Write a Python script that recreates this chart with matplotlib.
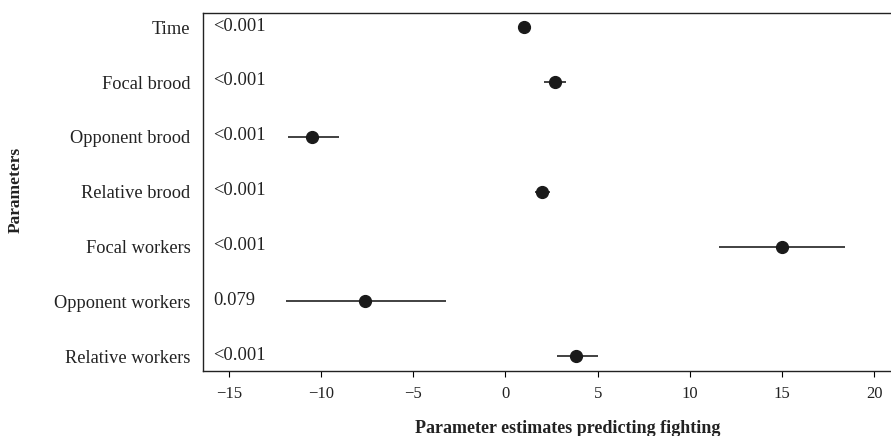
import numpy as np
import matplotlib.pyplot as plt

# parameter estimates with confidence intervals
params = ["Time", "Focal brood", "Opponent brood", "Relative brood",
          "Focal workers", "Opponent workers", "Relative workers"]
estimate = [1.0, 2.7, -10.5, 2.0, 15.0, -7.6, 3.8]
ci_low = [1.0, 2.1, -11.8, 1.6, 11.6, -11.9, 2.8]
ci_high = [1.0, 3.3, -9.0, 2.4, 18.4, -3.2, 5.0]
pvals = ["<0.001", "<0.001", "<0.001", "<0.001", "<0.001", "0.079", "<0.001"]
xticks = [-15, -10, -5, 0, 5, 10, 15, 20]

plt.rcParams['font.family'] = ['Liberation Serif', 'DejaVu Serif']

fig = plt.figure(figsize=(8.91, 4.36), dpi=100)
ax = fig.add_axes([203 / 891, 65 / 436, 688 / 891, 358 / 436])

y = np.arange(len(params))
est = np.array(estimate)
xerr = [est - np.array(ci_low), np.array(ci_high) - est]
ax.errorbar(est, y, xerr=xerr, fmt='o', color='#1a1a1a', ecolor='#333333',
            elinewidth=1.3, markersize=8.5, capsize=0)

for yi, p in zip(y, pvals):
    ax.text(0.015, yi - 0.02, p, transform=ax.get_yaxis_transform(), ha='left',
            va='center', fontsize=13.3, color='#222222')

ax.set_yticks(y)
ax.set_yticklabels(params, fontsize=13.2, color='#222222')
ax.tick_params(axis='y', length=0, pad=9)
ax.set_xticks(xticks)
ax.set_xticklabels([str(t).replace('-', '\u2212') for t in xticks], fontsize=12,
                   color='#222222')
ax.tick_params(axis='x', length=4, direction='out', pad=7)
ax.set_xlim(-16.4, 20.9)
ax.set_ylim(6.27, -0.26)
ax.spines['right'].set_visible(False)
for s in ['left', 'top', 'bottom']:
    ax.spines[s].set_linewidth(1.0)
    ax.spines[s].set_color('#222222')

# axis titles placed in figure coordinates
fig.text(568 / 891, 8 / 436, "Parameter estimates predicting fighting",
         ha='center', va='center', fontsize=13, fontweight='bold', color='#222222')
fig.text(16 / 891, 0.565, "Parameters", rotation=90, ha='center', va='center',
         fontsize=12.5, fontweight='bold', color='#222222')

fig.savefig("out.png", dpi=100)
